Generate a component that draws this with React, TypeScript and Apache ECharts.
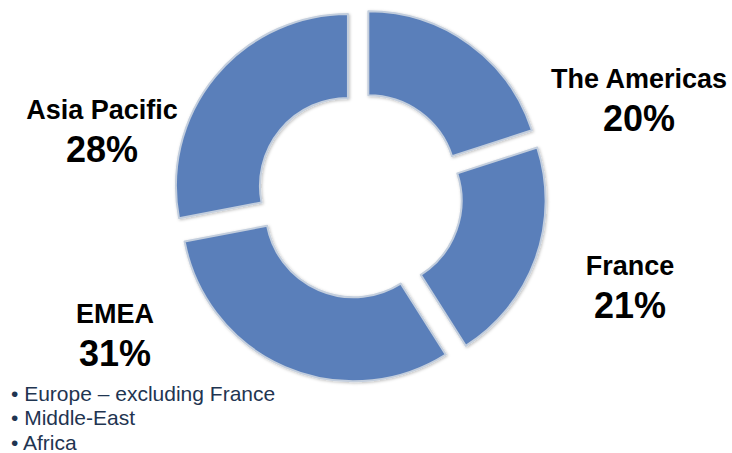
import React, { useEffect, useRef } from "react";
import * as echarts from "echarts";

const regions = ["The Americas", "France", "EMEA", "Asia Pacific"];
const shares = [20, 21, 31, 28];
const emeaNotes = ["• Europe – excluding France", "• Middle-East", "• Africa"];

// label block centres (px), by slice index
const labelPos = [
  [639, 101],
  [630, 288],
  [115, 336],
  [102, 132],
];

const FONT = "'Liberation Sans', Arial, sans-serif";

export default function App() {
  const ref = useRef<HTMLDivElement>(null);
  useEffect(() => {
    if (!ref.current) return;
    const chart = echarts.init(ref.current, undefined, { renderer: "svg" });
    const sliceStyle = {
      color: "#5A7FBA",
      borderColor: "#c3cedd",
      borderWidth: 2,
      shadowColor: "rgba(0,0,0,0.25)",
      shadowBlur: 3,
      shadowOffsetX: 1,
      shadowOffsetY: 1,
    };
    const rich = {
      n: {
        fontFamily: FONT,
        fontWeight: "bold",
        fontSize: 27,
        lineHeight: 34,
        fill: "#000",
        align: "center",
      },
      p: {
        fontFamily: FONT,
        fontWeight: "bold",
        fontSize: 36,
        lineHeight: 44,
        fill: "#000",
        align: "center",
      },
    };
    chart.setOption({
      animation: false,
      backgroundColor: "#ffffff",
      series: [
        {
          type: "pie",
          center: [359.5, 195.5],
          radius: [88, 172],
          startAngle: 90,
          clockwise: true,
          selectedMode: "multiple",
          selectedOffset: 15,
          itemStyle: sliceStyle,
          select: { itemStyle: sliceStyle },
          emphasis: { disabled: true },
          labelLine: { show: false },
          label: { show: false },
          data: regions.map((name, i) => ({
            name,
            value: shares[i],
            selected: true,
          })),
        },
      ],
      graphic: [
        ...regions.map((name, i) => ({
          type: "text",
          x: labelPos[i][0],
          y: labelPos[i][1],
          style: {
            text: `{n|${name}}\n{p|${shares[i]}%}`,
            rich,
            align: "center",
            verticalAlign: "middle",
          },
        })),
        ...emeaNotes.map((t, i) => ({
          type: "text",
          x: 11,
          y: 393 + i * 24.5,
          style: {
            text: t,
            fontFamily: FONT,
            fontSize: 21,
            fill: "#1f3551",
            verticalAlign: "middle",
          },
        })),
      ],
    });
    return () => chart.dispose();
  }, []);
  return (
    <div
      ref={ref}
      style={{ position: "fixed", left: 0, top: 0, width: 732, height: 453 }}
    />
  );
}
